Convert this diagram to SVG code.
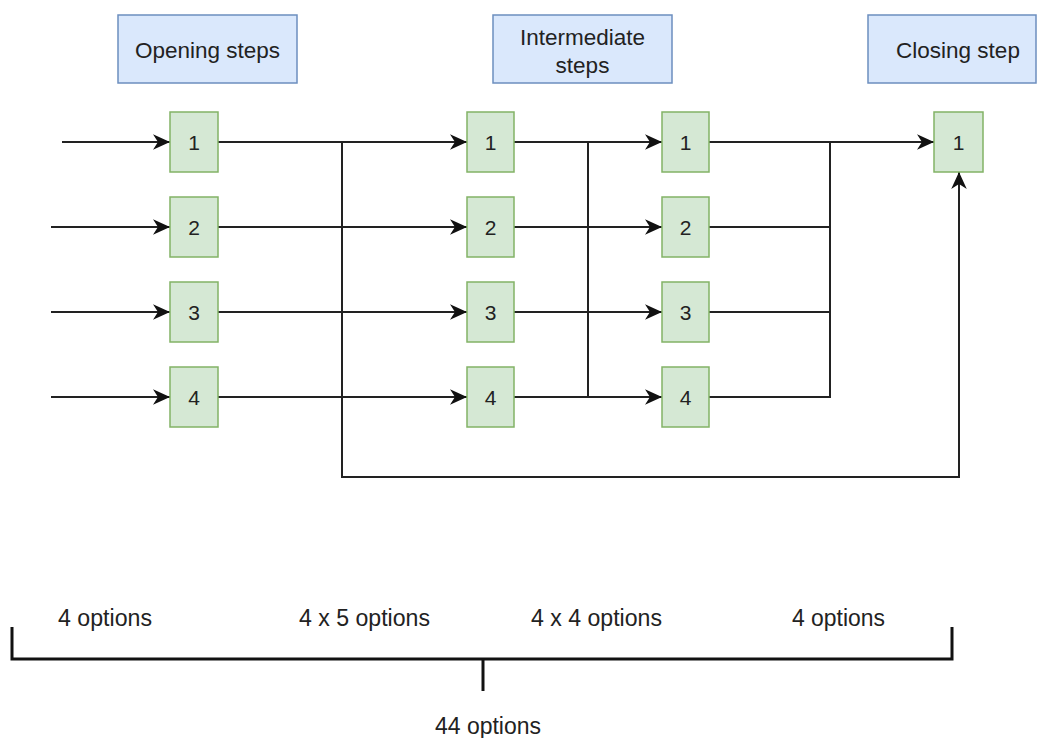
<svg xmlns="http://www.w3.org/2000/svg" width="1037" height="738" viewBox="0 0 1037 738">
<style>
.hdr{fill:#dae8fc;stroke:#6c8ebf;stroke-width:1.5}
.nd{fill:#d5e8d4;stroke:#82b366;stroke-width:1.5}
text{font-family:"Liberation Sans",Arial,sans-serif;fill:#222}
.ht{font-size:22.5px;text-anchor:middle}
.nt{font-size:21px;text-anchor:middle}
.ot{font-size:23px}
.c{fill:none;stroke:#222;stroke-width:2}
.a{marker-end:url(#arr)}
.br{fill:none;stroke:#111;stroke-width:3}
</style>
<defs>
<marker id="arr" viewBox="0 0 12 11" refX="12" refY="5.5" markerWidth="8.5" markerHeight="7.8" markerUnits="strokeWidth" orient="auto">
<path d="M0,0 L12,5.5 L0,11 L3.5,5.5 z" fill="#111"/>
</marker>
</defs>
<rect width="1037" height="738" fill="#fff"/>

<g id="connectors">
<path class="c a" d="M62,142 H170"/>
<path class="c a" d="M51,227 H170"/>
<path class="c a" d="M51,312 H170"/>
<path class="c a" d="M51,397 H170"/>
<path class="c a" d="M218,142 H467"/>
<path class="c a" d="M218,227 H467"/>
<path class="c a" d="M218,312 H467"/>
<path class="c a" d="M218,397 H467"/>
<path class="c a" d="M342,142 V477 H959 V172"/>
<path class="c a" d="M514,142 H662"/>
<path class="c a" d="M514,227 H662"/>
<path class="c a" d="M514,312 H662"/>
<path class="c a" d="M514,397 H662"/>
<path class="c" d="M588,142 V397"/>
<path class="c a" d="M709,142 H934"/>
<path class="c" d="M709,227 H830"/>
<path class="c" d="M709,312 H830"/>
<path class="c" d="M709,397 H830 V142"/>
</g>

<g id="hdr-opening"><rect class="hdr" x="118" y="15" width="179" height="68"/><text class="ht" x="207.5" y="58">Opening steps</text></g>
<g id="hdr-intermediate"><rect class="hdr" x="493" y="15" width="179" height="68"/><text class="ht" x="582.5" y="45">Intermediate</text><text class="ht" x="582.5" y="73">steps</text></g>
<g id="hdr-closing"><rect class="hdr" x="868" y="15" width="168" height="68"/><text class="ht" x="958" y="58">Closing step</text></g>

<g id="o1"><rect class="nd" x="170" y="112" width="48" height="60"/><text class="nt" x="194" y="150">1</text></g>
<g id="o2"><rect class="nd" x="170" y="197" width="48" height="60"/><text class="nt" x="194" y="235">2</text></g>
<g id="o3"><rect class="nd" x="170" y="282" width="48" height="60"/><text class="nt" x="194" y="320">3</text></g>
<g id="o4"><rect class="nd" x="170" y="367" width="48" height="60"/><text class="nt" x="194" y="405">4</text></g>

<g id="i1"><rect class="nd" x="467" y="112" width="47" height="60"/><text class="nt" x="490.5" y="150">1</text></g>
<g id="i2"><rect class="nd" x="467" y="197" width="47" height="60"/><text class="nt" x="490.5" y="235">2</text></g>
<g id="i3"><rect class="nd" x="467" y="282" width="47" height="60"/><text class="nt" x="490.5" y="320">3</text></g>
<g id="i4"><rect class="nd" x="467" y="367" width="47" height="60"/><text class="nt" x="490.5" y="405">4</text></g>

<g id="j1"><rect class="nd" x="662" y="112" width="47" height="60"/><text class="nt" x="685.5" y="150">1</text></g>
<g id="j2"><rect class="nd" x="662" y="197" width="47" height="60"/><text class="nt" x="685.5" y="235">2</text></g>
<g id="j3"><rect class="nd" x="662" y="282" width="47" height="60"/><text class="nt" x="685.5" y="320">3</text></g>
<g id="j4"><rect class="nd" x="662" y="367" width="47" height="60"/><text class="nt" x="685.5" y="405">4</text></g>

<g id="c1"><rect class="nd" x="934" y="112" width="49" height="60"/><text class="nt" x="958.5" y="150">1</text></g>

<g id="bracket">
<path class="br" d="M12,627 V659 H952 V627"/>
<path class="br" d="M483,659 V691"/>
</g>
<g id="labels">
<text class="ot" x="58" y="626" textLength="94" lengthAdjust="spacingAndGlyphs">4 options</text>
<text class="ot" x="299" y="626" textLength="131" lengthAdjust="spacingAndGlyphs">4 x 5 options</text>
<text class="ot" x="531" y="626" textLength="131" lengthAdjust="spacingAndGlyphs">4 x 4 options</text>
<text class="ot" x="792" y="626" textLength="93" lengthAdjust="spacingAndGlyphs">4 options</text>
<text class="ot" x="435" y="734" textLength="106" lengthAdjust="spacingAndGlyphs">44 options</text>
</g>
</svg>
